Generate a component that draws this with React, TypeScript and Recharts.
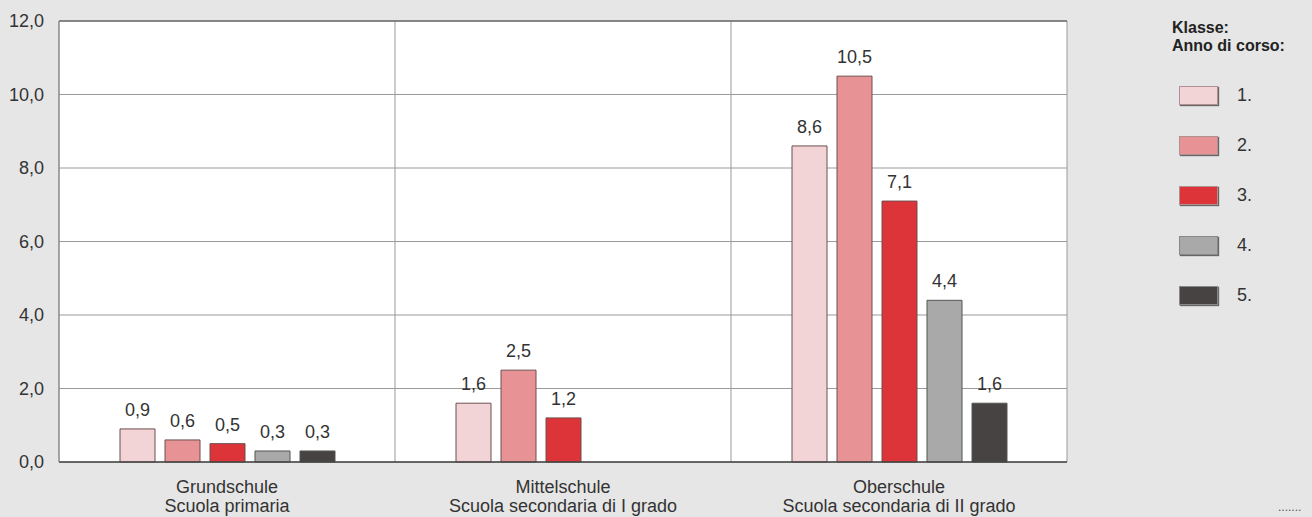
import { BarChart, Bar, XAxis, YAxis, CartesianGrid, LabelList, ReferenceLine } from "recharts";

const schoolsDe = ["Grundschule", "Mittelschule", "Oberschule"];
const schoolsIt = ["Scuola primaria", "Scuola secondaria di I grado", "Scuola secondaria di II grado"];

const klasse1 = [0.9, 1.6, 8.6];
const klasse2 = [0.6, 2.5, 10.5];
const klasse3 = [0.5, 1.2, 7.1];
const klasse4 = [0.3, null, 4.4];
const klasse5 = [0.3, null, 1.6];

const seriesNames = ["1.", "2.", "3.", "4.", "5."];
const seriesColors = ["#f2d3d6", "#e79396", "#dc3438", "#a9a9a9", "#474343"];
const yTicks = [0, 2, 4, 6, 8, 10, 12];

const data = schoolsDe.map((name, i) => ({
  name,
  k1: klasse1[i],
  k2: klasse2[i],
  k3: klasse3[i],
  k4: klasse4[i],
  k5: klasse5[i],
}));

const font = "'Liberation Sans', Arial, sans-serif";
const fmt = (v: any) => (v == null ? "" : Number(v).toFixed(1).replace(".", ","));

const SchoolTick = (props: any) => {
  const { x, y, payload } = props;
  const i = schoolsDe.indexOf(payload.value);
  return (
    <text x={x} y={y} textAnchor="middle" fill="#333" fontSize={18} fontFamily={font}>
      <tspan x={x} dy={23}>{schoolsDe[i]}</tspan>
      <tspan x={x} dy={19}>{schoolsIt[i]}</tspan>
    </text>
  );
};

// vertical grid lines sit on the borders between the school groups
const groupBorders = ({ offset }: any) =>
  schoolsDe.map((_, i) => offset.left + (offset.width * (i + 1)) / schoolsDe.length);

const App = () => {
  const keys = ["k1", "k2", "k3", "k4", "k5"];
  return (
    <div
      style={{
        position: "absolute",
        left: 0,
        top: 0,
        width: 1312,
        height: 517,
        background: "#e6e6e6",
        fontFamily: font,
        overflow: "hidden",
      }}
    >
      <BarChart
        width={1312}
        height={517}
        data={data}
        margin={{ top: 21, right: 245, bottom: 25, left: 0 }}
        barSize={35}
        barGap={10}
      >
        <CartesianGrid fill="#ffffff" stroke="#9a9a9a" verticalCoordinatesGenerator={groupBorders} />
        <XAxis
          dataKey="name"
          tick={<SchoolTick />}
          tickLine={false}
          axisLine={{ stroke: "#444", strokeWidth: 1.5 }}
          interval={0}
        />
        <YAxis
          domain={[0, 12]}
          ticks={yTicks}
          width={59}
          tickSize={0}
          tickMargin={15}
          tickLine={false}
          axisLine={{ stroke: "#888", strokeWidth: 1.5 }}
          tickFormatter={fmt}
          tick={{ fill: "#333", fontSize: 18, fontFamily: font }}
        />
        <ReferenceLine y={12} stroke="#444" />
        {keys.map((k, i) => (
          <Bar
            key={k}
            dataKey={k}
            fill={seriesColors[i]}
            stroke={i < 3 ? "#6e4f4f" : "#555"}
            strokeWidth={1}
            isAnimationActive={false}
          >
            <LabelList
              dataKey={k}
              position="top"
              offset={13}
              formatter={fmt}
              fill="#333"
              fontSize={18}
              fontFamily={font}
            />
          </Bar>
        ))}
      </BarChart>

      <div
        style={{
          position: "absolute",
          left: 1172,
          top: 19,
          fontWeight: "bold",
          fontSize: 16,
          lineHeight: "18px",
          color: "#222",
          whiteSpace: "nowrap",
        }}
      >
        <div>Klasse:</div>
        <div>Anno di corso:</div>
      </div>
      {seriesNames.map((n, i) => (
        <div
          key={n}
          style={{
            position: "absolute",
            left: 1179,
            top: 86 + i * 50,
            display: "flex",
            alignItems: "center",
            height: 19,
          }}
        >
          <div
            style={{
              width: 37,
              height: 17,
              background: seriesColors[i],
              border: "1px solid " + (i < 3 ? "#b09090" : "#888"),
              boxShadow: "1px 1px 1px #666",
            }}
          />
          <span style={{ marginLeft: 19, fontSize: 18, color: "#333" }}>{n}</span>
        </div>
      ))}
      <div style={{ position: "absolute", left: 1278, top: 500, fontSize: 12, color: "#555" }}>
        .......
      </div>
    </div>
  );
};

export default App;
